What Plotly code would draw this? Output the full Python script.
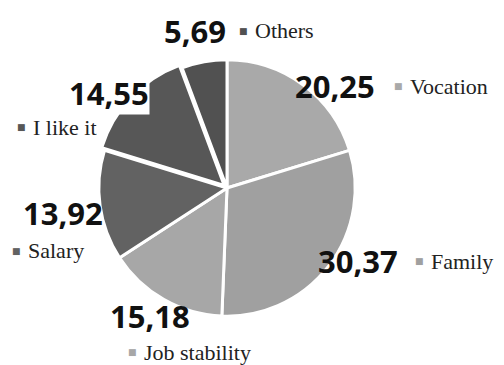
import plotly.graph_objects as go

categories = ["Vocation", "Family", "Job stability", "Salary", "I like it", "Others"]
values = [20.25, 30.37, 15.18, 13.92, 14.55, 5.69]
colors = ["#a9a9a9", "#a0a0a0", "#a7a7a7", "#626262", "#575757", "#515151"]
pulls = [0, 0, 0, 0, 0.03, 0]

W, H = 504, 365
SERIF = "Liberation Serif"

fig = go.Figure(go.Pie(
    labels=categories, values=values, sort=False, direction="clockwise", rotation=0,
    marker=dict(colors=colors, line=dict(color="white", width=3)),
    pull=pulls, textinfo="none", hoverinfo="label+value", showlegend=False,
    domain=dict(x=[(227 - 132) / W, (227 + 132) / W], y=[(177 - 132) / H, (177 + 132) / H]),
))

# (value centre), (marker left) in pixels
pos = {
    "Vocation": ((335, 86), (392, 86)),
    "Family": ((358, 261), (413, 261)),
    "Job stability": ((150, 316), (126, 352)),
    "Salary": ((63, 213), (10, 251)),
    "I like it": ((109, 93), (15, 127)),
    "Others": ((195, 31), (237, 31)),
}
boxed = {"I like it"}

def fmt(v):
    return f"{v:.2f}".replace(".", ",")

anns = []
for cat, val, col in zip(categories, values, colors):
    (vx, vy), (nx, ny) = pos[cat]
    bg = "white" if cat in boxed else "rgba(0,0,0,0)"
    anns.append(dict(x=vx / W, y=1 - vy / H, xref="paper", yref="paper", showarrow=False,
                     text=f"<b>{fmt(val)}</b>", xanchor="center", yanchor="middle",
                     bgcolor=bg, borderpad=0,
                     font=dict(family="Open Sans", size=31, color="#111111")))
    anns.append(dict(x=(nx + 14) / W, y=1 - ny / H, xref="paper", yref="paper", showarrow=False,
                     text=cat, xanchor="left", yanchor="middle",
                     bgcolor=bg, borderpad=3,
                     font=dict(family=SERIF, size=22, color="#222222", style="normal",
                               weight="normal")))
    anns.append(dict(x=nx / W, y=1 - ny / H, xref="paper", yref="paper", showarrow=False,
                     text="■", xanchor="left", yanchor="middle",
                     font=dict(family="DejaVu Sans", size=9, color=col)))

fig.update_layout(width=W, height=H, margin=dict(l=0, r=0, t=0, b=0),
                  font=dict(family=SERIF),
                  paper_bgcolor="white", plot_bgcolor="white", annotations=anns)
fig.write_html("out.html")
